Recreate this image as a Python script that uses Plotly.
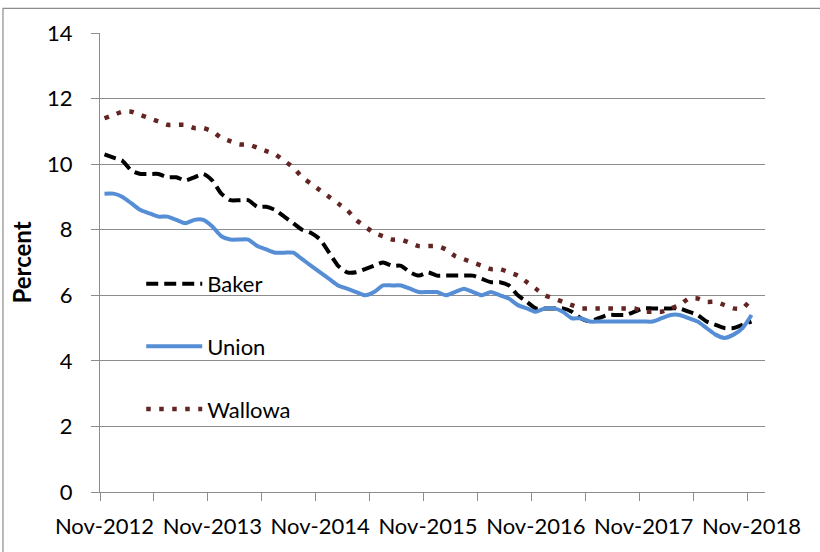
import plotly.graph_objects as go
import pandas as pd

# ---- data ----
months = pd.date_range("2012-11-01", periods=73, freq="MS").strftime("%b-%Y").tolist()

baker = [10.3, 10.2, 10.1, 9.8, 9.7, 9.7, 9.7, 9.6, 9.6, 9.5,
         9.6, 9.7, 9.5, 9.1, 8.9, 8.9, 8.9, 8.7, 8.7, 8.6,
         8.4, 8.2, 8.0, 7.9, 7.7, 7.3, 6.9, 6.7, 6.7, 6.8,
         6.9, 7.0, 6.9, 6.9, 6.7, 6.6, 6.7, 6.6, 6.6, 6.6,
         6.6, 6.6, 6.5, 6.4, 6.4, 6.3, 6.0, 5.8, 5.6, 5.6,
         5.6, 5.6, 5.5, 5.3, 5.2, 5.3, 5.4, 5.4, 5.4, 5.5,
         5.6, 5.6, 5.6, 5.6, 5.6, 5.5, 5.4, 5.2, 5.1, 5.0,
         5.0, 5.1, 5.2]

union = [9.1, 9.1, 9.0, 8.8, 8.6, 8.5, 8.4, 8.4, 8.3, 8.2,
         8.3, 8.3, 8.1, 7.8, 7.7, 7.7, 7.7, 7.5, 7.4, 7.3,
         7.3, 7.3, 7.1, 6.9, 6.7, 6.5, 6.3, 6.2, 6.1, 6.0,
         6.1, 6.3, 6.3, 6.3, 6.2, 6.1, 6.1, 6.1, 6.0, 6.1,
         6.2, 6.1, 6.0, 6.1, 6.0, 5.9, 5.7, 5.6, 5.5, 5.6,
         5.6, 5.5, 5.3, 5.3, 5.2, 5.2, 5.2, 5.2, 5.2, 5.2,
         5.2, 5.2, 5.3, 5.4, 5.4, 5.3, 5.2, 5.0, 4.8, 4.7,
         4.8, 5.0, 5.4]

wallowa = [11.4, 11.5, 11.6, 11.6, 11.5, 11.4, 11.3, 11.2, 11.2, 11.2,
           11.1, 11.1, 11.0, 10.8, 10.7, 10.6, 10.6, 10.5, 10.4, 10.3,
           10.1, 9.9, 9.6, 9.4, 9.2, 9.0, 8.8, 8.6, 8.3, 8.1,
           7.9, 7.8, 7.7, 7.7, 7.6, 7.5, 7.5, 7.5, 7.4, 7.2,
           7.1, 7.0, 6.9, 6.8, 6.8, 6.7, 6.6, 6.4, 6.2, 6.0,
           5.9, 5.8, 5.7, 5.6, 5.6, 5.6, 5.6, 5.6, 5.6, 5.6,
           5.5, 5.5, 5.5, 5.6, 5.7, 5.9, 5.9, 5.8, 5.8, 5.7,
           5.6, 5.6, 5.9]

tick_labels = months[::12]
y_ticks = [0, 2, 4, 6, 8, 10, 12, 14]

# ---- figure ----
idx = list(range(len(months)))
FONT = "Lato"
GRID = "#8c8c8c"

fig = go.Figure()
fig.add_trace(go.Scatter(x=idx, y=baker, name="Baker", mode="lines", legendgroup="b",
                         customdata=months, line=dict(color="#000000", width=4, dash="12px,6px",
                                                      shape="spline", smoothing=0.6)))
fig.add_trace(go.Scatter(x=idx, y=union, name="Union", mode="lines", legendgroup="u",
                         customdata=months, line=dict(color="#558ED5", width=4,
                                                      shape="spline", smoothing=0.6)))
fig.add_trace(go.Scatter(x=idx, y=wallowa, name="Wallowa", mode="lines", legendgroup="w",
                         customdata=months, line=dict(color="#632523", width=4.5, dash="4.5px,8.5px",
                                                      shape="spline", smoothing=0.6)))

fig.update_layout(
    width=820, height=552,
    margin=dict(l=100, r=55, t=33, b=60),
    paper_bgcolor="white", plot_bgcolor="white",
    font=dict(family=FONT, size=22, color="#000000"),
    showlegend=True,
    legend=dict(x=0.062, y=0.499, xanchor="left", yanchor="top", itemwidth=56,
                bgcolor="rgba(0,0,0,0)", tracegroupgap=31,
                font=dict(family=FONT, size=22, color="#000000")),
    shapes=[dict(type="rect", xref="paper", yref="paper",
                 x0=-0.1459, x1=1.12, y0=-0.16, y1=1.0535,
                 line=dict(color=GRID, width=1.2), layer="above")],
)

fig.update_xaxes(
    range=[-0.5, 73.5], showgrid=False, zeroline=False,
    showline=True, linecolor=GRID, linewidth=1.3,
    tickmode="array", tickvals=idx[::12], ticktext=tick_labels,
    ticks="", ticklabelstandoff=14,
    tickfont=dict(family=FONT, size=22, color="#000000"),
    minor=dict(tickmode="array", tickvals=[-0.5 + 6 * k for k in range(13)],
               ticks="outside", ticklen=8, tickcolor=GRID, tickwidth=1.3, showgrid=False),
)
fig.update_yaxes(
    range=[0, 14], tickmode="array", tickvals=y_ticks,
    showgrid=True, gridcolor=GRID, gridwidth=1.3, zeroline=False,
    showline=True, linecolor=GRID, linewidth=1.3,
    ticks="outside", ticklen=8, tickcolor=GRID, tickwidth=1.3,
    ticklabelstandoff=14,
    tickfont=dict(family=FONT, size=22, color="#000000"),
    title=dict(text="<b>Percent</b>", font=dict(family=FONT, size=24, color="#000000"), standoff=8),
)

fig.write_html("out.html", config={"displayModeBar": False},
               post_script="document.body.style.margin='0';")
